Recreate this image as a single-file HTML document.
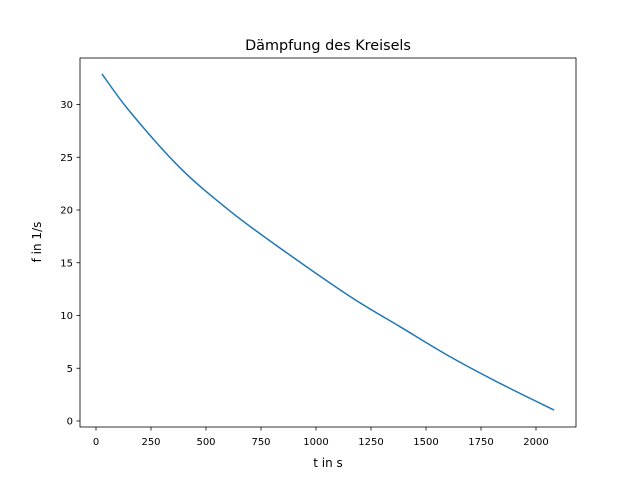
<!DOCTYPE html>
<html><head><meta charset="utf-8"><style>
body{margin:0;background:#fff;}
svg{display:block;font-family:"DejaVu Sans","Liberation Sans",sans-serif;}
</style></head><body>
<svg id="chart" width="640" height="480">
<rect x="0" y="0" width="640" height="480" fill="#fff"/>
<text x="328" y="50" font-size="14.4" text-anchor="middle">Dämpfung des Kreisels</text>
<g id="xt"></g><g id="yt"></g>
<path id="line" fill="none" stroke="#1f77b4" stroke-width="1.5" stroke-linejoin="round"/>
<rect x="80" y="58" width="496" height="369" fill="none" stroke="#000" stroke-width="0.8"/>
<text x="328" y="467" font-size="12" text-anchor="middle">t in s</text>
<text x="0" y="0" font-size="12" text-anchor="middle" transform="translate(41,242) rotate(-90)">f in 1/s</text>
</svg>
<script>
const tValues=[27,155,382,609,836,1155,1382,1609,1836,2082];
const fValues=[32.9,29.3,24.0,19.9,16.4,11.8,8.94,6.1,3.57,1.04];
const xTicks=[0,250,500,750,1000,1250,1500,1750,2000];
const yTicks=[0,5,10,15,20,25,30];
const X=v=>96+v*0.22, Y=v=>421-v*10.55;
const ns="http://www.w3.org/2000/svg";
const xt=document.getElementById('xt'), yt=document.getElementById('yt');
xTicks.forEach(v=>{
 const l=document.createElementNS(ns,'line');
 l.setAttribute('x1',X(v));l.setAttribute('x2',X(v));l.setAttribute('y1',427);l.setAttribute('y2',430.5);l.setAttribute('stroke','#000');l.setAttribute('stroke-width','0.8');
 
 
 xt.appendChild(l);
 const t=document.createElementNS(ns,'text');
 t.setAttribute('x',X(v));t.setAttribute('y',445);t.setAttribute('font-size','10');t.setAttribute('text-anchor','middle');t.textContent=v;
 
 
 xt.appendChild(t);
});
yTicks.forEach(v=>{
 const l=document.createElementNS(ns,'line');
 l.setAttribute('x1',76.5);l.setAttribute('x2',80);l.setAttribute('y1',Y(v));l.setAttribute('y2',Y(v));l.setAttribute('stroke','#000');l.setAttribute('stroke-width','0.8');
 
 
 yt.appendChild(l);
 const t=document.createElementNS(ns,'text');
 t.setAttribute('x',73);t.setAttribute('y',Y(v)+3.5);t.setAttribute('font-size','10');t.setAttribute('text-anchor','end');t.textContent=v;
 
 
 yt.appendChild(t);
});
const P=tValues.map((t,i)=>[X(t),Y(fValues[i])]);
let d='M'+P[0][0]+','+P[0][1];
for(let i=0;i<P.length-1;i++){
 const p0=P[i-1]||P[i],p1=P[i],p2=P[i+1],p3=P[i+2]||P[i+1];
 const c1=[p1[0]+(p2[0]-p0[0])/6,p1[1]+(p2[1]-p0[1])/6];
 const c2=[p2[0]-(p3[0]-p1[0])/6,p2[1]-(p3[1]-p1[1])/6];
 d+=' C'+c1+' '+c2+' '+p2;
}
document.getElementById('line').setAttribute('d',d);
</script>
</body></html>
